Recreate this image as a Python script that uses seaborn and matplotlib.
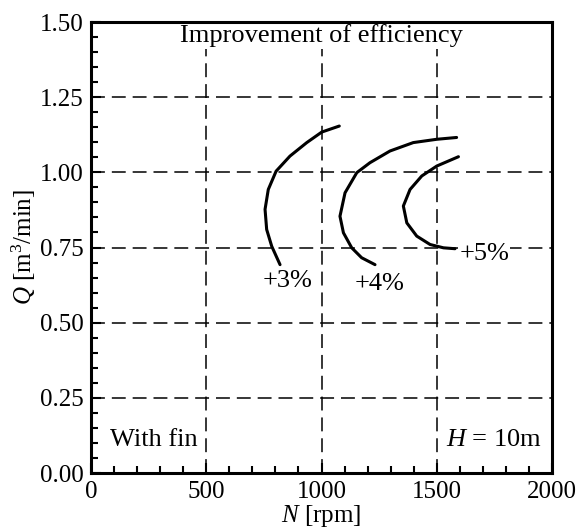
import numpy as np
import pandas as pd
import seaborn as sns
import matplotlib.pyplot as plt
from matplotlib.ticker import MultipleLocator

# curves of equal efficiency improvement
n_3 = [1077, 1001, 936, 863, 803, 769, 755, 762, 784, 820]
q_3 = [1.154, 1.134, 1.099, 1.054, 1.004, 0.943, 0.877, 0.810, 0.754, 0.693]
n_4 = [1586, 1500, 1398, 1297, 1210, 1153, 1102, 1080, 1095, 1131, 1174, 1232]
q_4 = [1.116, 1.110, 1.099, 1.071, 1.032, 0.999, 0.932, 0.854, 0.799, 0.749, 0.716, 0.693]
n_5 = [1594, 1500, 1435, 1384, 1355, 1370, 1413, 1471, 1529, 1579]
q_5 = [1.052, 1.021, 0.988, 0.943, 0.888, 0.832, 0.788, 0.760, 0.749, 0.746]

labels = ["+3%", "+4%", "+5%"]
label_n = [853, 1250, 1597]
label_q = [0.64, 0.63, 0.73]

frames = []
for lab, n, q in zip(labels, [n_3, n_4, n_5], [q_3, q_4, q_5]):
    frames.append(pd.DataFrame({"N": n, "Q": q, "curve": lab, "order": range(len(n))}))
df = pd.concat(frames, ignore_index=True)

sns.set_style("ticks")
plt.rcParams["font.family"] = ["Liberation Serif", "DejaVu Serif"]
plt.rcParams["mathtext.fontset"] = "custom"
plt.rcParams["mathtext.rm"] = "Liberation Serif"
plt.rcParams["mathtext.it"] = "Liberation Serif:italic"
plt.rcParams["lines.scale_dashes"] = False
# plain black everywhere, like the scanned figure
for key in ["text.color", "axes.labelcolor", "xtick.color", "ytick.color", "axes.edgecolor"]:
    plt.rcParams[key] = "black"

fig = plt.figure(figsize=(5.82, 5.32), dpi=100)
ax = fig.add_axes([0.1564, 0.1109, 0.7921, 0.8477])

# dashed grid
for x in [500, 1000, 1500]:
    ax.axvline(x, color="black", lw=1.1, dashes=(10, 5), zorder=1)
for y in [0.25, 0.5, 0.75, 1.0, 1.25]:
    ax.axhline(y, color="black", lw=1.1, dashes=(10, 5), zorder=1)

sns.lineplot(data=df, x="N", y="Q", units="curve", estimator=None, sort=False,
             color="black", lw=2.2, ax=ax, zorder=3)
for line in ax.lines:
    line.set_solid_joinstyle("round")
    line.set_solid_capstyle("round")

for lab, n, q in zip(labels, label_n, label_q):
    ha = "left" if lab == "+5%" else "center"
    ax.text(n, q, lab, ha=ha, va="center", fontsize=19, zorder=4,
            bbox=dict(facecolor="white", edgecolor="none", pad=0.5))

ax.text(1000, 1.455, "Improvement of efficiency", ha="center", va="center",
        fontsize=19, zorder=4, bbox=dict(facecolor="white", edgecolor="none", pad=1.5))
ax.text(82, 0.11, "With fin", ha="left", va="center", fontsize=19, zorder=4)
ax.text(1957, 0.11, r"$H$ = 10m", ha="right", va="center", fontsize=19, zorder=4)

ax.set_xlim(0, 2000)
ax.set_ylim(0, 1.5)
ax.xaxis.set_major_locator(MultipleLocator(500))
ax.xaxis.set_minor_locator(MultipleLocator(100))
ax.yaxis.set_major_locator(MultipleLocator(0.25))
ax.yaxis.set_minor_locator(MultipleLocator(0.05))
ax.yaxis.set_major_formatter(lambda v, p: f"{v:.2f}")
ax.tick_params(which="both", direction="in", top=False, right=False,
               width=1.5, labelsize=18)
ax.tick_params(which="major", length=7)
ax.tick_params(which="minor", length=5)
ax.tick_params(axis="x", pad=6)
ax.tick_params(axis="y", pad=5)
for s in ax.spines.values():
    s.set_linewidth(2.2)
    s.set_zorder(5)

ax.set_xlabel(r"$N$ [rpm]", fontsize=18, labelpad=0)
ax.set_ylabel(r"$Q$ [m$^3$/min]", fontsize=18, labelpad=2)

fig.savefig("out.png", dpi=100)
